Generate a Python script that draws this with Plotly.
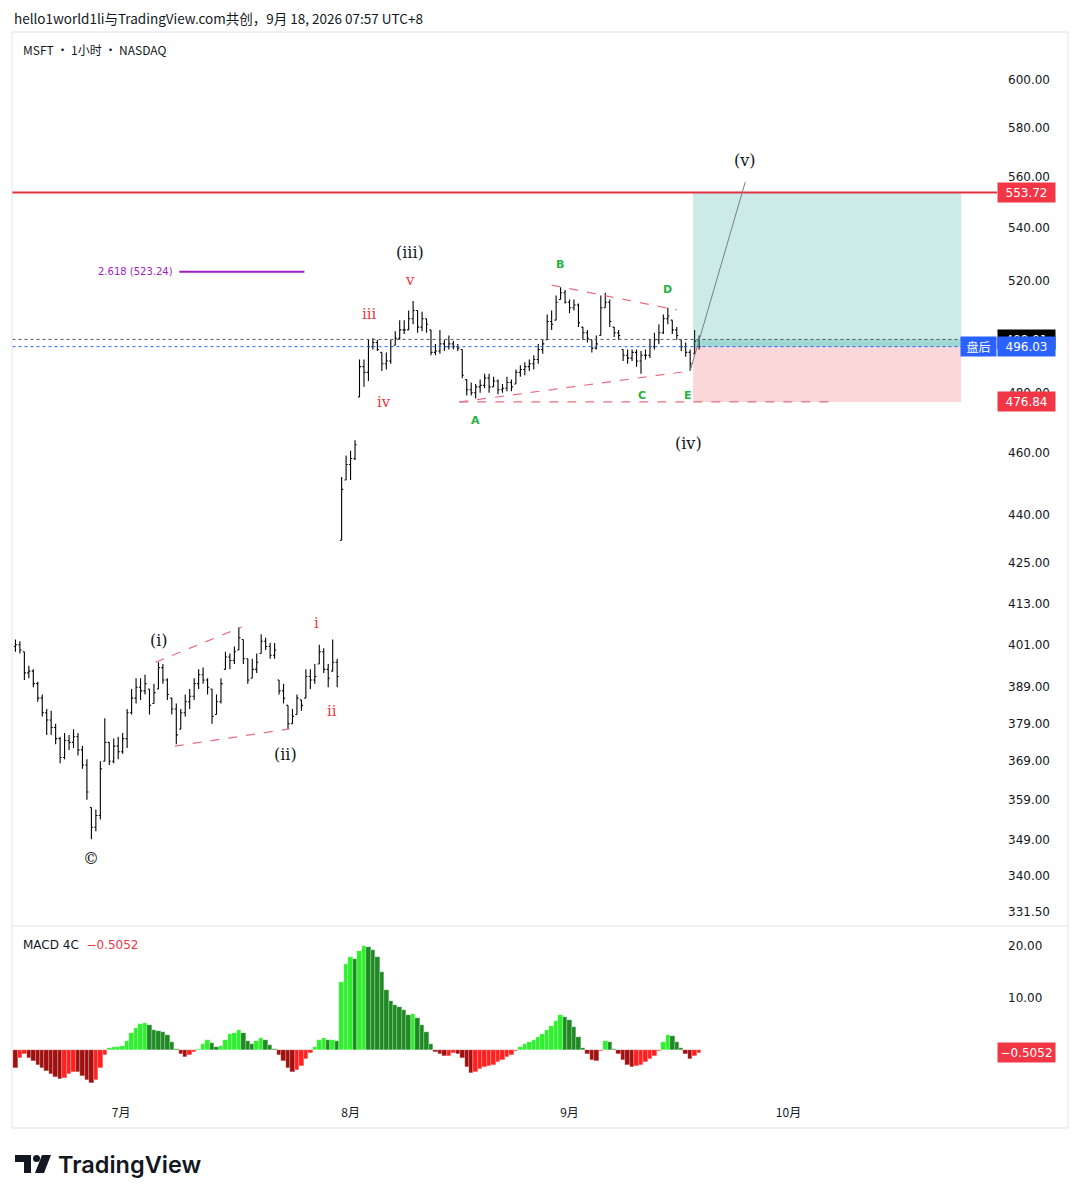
import math
import plotly.graph_objects as go

OFF = 8                       # page body margin in the browser
W, H = 1080 - OFF, 1198 - OFF

# ---------------- data (MSFT, 1h bars grouped into 3-hour slots) ----------------
open_first = 400.5
highs = [402.5, 402, 399, 395, 394, 390.5, 387, 383, 382.5, 379,
         375.5, 376.5, 376, 377.5, 376.5, 373, 369.5, 357, 356.5, 369,
         380.5, 374, 375, 375.5, 376.5, 383, 388.5, 391.5, 391.5, 392.5,
         388.5, 390, 396, 395.5, 391.5, 386, 384.5, 383, 387, 388.5,
         391.5, 394, 394.5, 391.5, 388.5, 387, 391.5, 399, 398.5, 400.5,
         406, 402.5, 397, 397, 398.5, 404, 403, 401.5, 401.5, 391,
         390, 384, 383, 387, 385.5, 394, 394, 395.5, 401, 400,
         395.5, 402.5, 397, 452, 459, 460.5, 464, 491.5, 491.5, 498.5,
         499, 498.5, 494, 494, 498.5, 501.5, 505.5, 505.5, 509, 512.5,
         509, 508.5, 506, 502, 497, 502, 498.5, 500, 498, 497,
         495, 484.5, 483.5, 483, 484.5, 486.5, 486.5, 485.5, 484.5, 483,
         485.5, 484.5, 488, 489.5, 490.5, 491.5, 493, 497, 498.5, 507.5,
         509, 514.5, 517.5, 516.5, 513, 513, 511.5, 503, 502, 498.5,
         500, 514.5, 515.5, 513, 503, 502, 495, 495, 495, 495,
         494.5, 495, 498.5, 501, 504, 507.5, 510, 505.5, 503, 498.5,
         497.5, 495, 502, 500]
lows = [399, 398.5, 391, 391.5, 389, 385, 381, 376, 376, 373.5,
        368.5, 369.5, 372, 372.5, 370.5, 367, 359, 349, 351, 354,
        369, 368, 368.5, 369.5, 371, 372.5, 381.5, 384.5, 385.5, 387,
        381.5, 384.5, 388.5, 390, 385.5, 381.5, 373.5, 377.5, 381, 383,
        385.5, 388.5, 390, 387, 379, 381.5, 384.5, 394, 394, 395.5,
        399.5, 395.5, 390, 391.5, 393, 398.5, 399.5, 397, 397, 387,
        384.5, 377.5, 379, 381.5, 382.5, 386, 388.5, 390, 395.5, 393,
        389, 393.5, 389, 432, 451, 451, 457.5, 478.5, 482, 484,
        495, 494.5, 487.5, 488, 490, 496.5, 498.5, 500.5, 502, 504,
        501, 501.5, 501, 493, 493, 493.5, 494.5, 495, 495, 494.5,
        485, 479, 479, 478, 480, 481.5, 480, 482, 479.5, 480,
        480.5, 480.5, 483, 485.5, 486, 487.5, 488, 490, 493.5, 498.5,
        502, 505.5, 513, 511.5, 508, 509, 503, 498.5, 497.5, 494,
        495, 500, 510, 503, 499.5, 498.5, 491, 490, 491, 489,
        486.5, 491.5, 492, 495, 497, 500.5, 504, 500.5, 498.5, 494.5,
        492.5, 487.5, 493.5, 495]
closes = [401, 399.5, 393, 393.5, 390, 386, 382, 380, 378, 375,
          370, 374.5, 374, 375.5, 372, 368, 361, 352, 355, 367,
          374, 369, 373, 371.5, 375, 382, 386, 389, 388, 390,
          384, 387.5, 394.5, 391, 387, 383, 376, 382, 385, 386.5,
          390, 392.5, 391, 389, 381, 385, 390, 397.5, 396.5, 399,
          403, 397, 391, 394, 396, 402, 400.5, 398, 399.5, 388,
          386, 379, 381, 386, 384, 392, 391, 392, 399, 394,
          391.5, 396, 392, 448, 456, 458, 462.5, 489, 487, 496,
          497.5, 495, 490, 491, 496, 499, 502, 502, 506, 509,
          503, 506, 504, 494, 494.5, 497, 496, 497, 496, 495.5,
          486, 481, 480, 482, 482.5, 485, 482, 484, 481, 481.5,
          483.5, 482, 487, 488, 489, 490, 491.5, 495, 497, 505,
          504, 512, 515.5, 512, 510, 511, 504.5, 501, 499, 495.5,
          497, 510, 512, 505, 501, 500, 493, 492, 494, 491,
          493, 493, 496, 498.5, 501, 506, 507, 502, 500, 496,
          494, 490, 498, 496.03]
macd_hist = [-3.5, -1.5, -0.8, -1.5, -2.2, -2.8, -3.4, -4.0, -4.6, -5.1,
             -5.5, -5.3, -4.6, -4.2, -4.3, -5.0, -5.8, -6.3, -5.8, -3.5,
             -1.0, 0.3, 0.5, 0.6, 0.7, 1.8, 3.2, 4.3, 5.0, 5.2,
             4.8, 3.8, 3.6, 3.4, 2.8, 1.5, 0.2, -0.8, -1.4, -1.0,
             -0.4, 0.2, 1.2, 1.9, 1.3, 0.6, 0.8, 2.0, 3.0, 3.3,
             3.9, 3.2, 1.8, 1.2, 1.8, 2.3, 1.9, 1.0, 0.1, -0.9,
             -2.2, -3.5, -4.3, -3.9, -3.0, -1.8, -0.6, 0.6, 2.0, 2.4,
             1.9, 2.0, 1.8, 13.0, 16.5, 17.8, 17.5, 19.0, 20.0, 19.8,
             19.2, 17.8, 15.0, 11.5, 9.5, 8.6, 8.2, 7.6, 6.8, 7.0,
             6.2, 4.8, 3.4, 1.2, -0.3, -0.8, -1.2, -1.1, -0.6, -0.8,
             -1.5, -3.2, -4.4, -4.2, -3.6, -3.3, -3.0, -2.8, -2.4, -2.0,
             -1.4, -0.9, -0.2, 0.6, 1.2, 1.6, 2.0, 2.5, 3.0, 3.8,
             4.6, 5.6, 6.7, 6.4, 5.7, 4.5, 2.5, 0.4, -0.8, -1.9,
             -2.1, -0.2, 1.8, 1.5, 0.2, -0.8, -2.0, -2.8, -3.2, -3.1,
             -2.9, -2.4, -1.8, -1.1, -0.2, 1.6, 2.8, 2.6, 1.6, 0.4,
             -0.7, -1.7, -1.2, -0.5052]

month_ticks = [72, 226, 373, 520]          # bar index of first bar of each month
month_labels = ['7月', '8月', '9月', '10月']
price_ticks = [331.5, 340, 349, 359, 369, 379, 389, 401, 413, 425, 440, 460,
               480, 520, 540, 560, 580, 600]
macd_ticks = [10, 20]

target_price = 553.72
entry_price = 496.03
stop_price = 476.84
regular_close = 498.60
fib_price = 523.24
macd_last = -0.5052

# drawings anchored to (bar index, price)
pos_bars = (456, 636)
stop_line_bars = (299, 550)
tri_upper = ([361, 445], [518.3, 509.2])
tri_lower = ([299, 454], [476.8, 487.5])
jul_upper = ([95, 153], [396.0, 406.1])
jul_lower = ([108, 185], [373.0, 377.6])
proj_line = ([454, 491], [487.5, 557.9])
fib_bars = (111, 195)

# ---------------- build ----------------
n = len(closes)
xs = [3 * i + 1 for i in range(n)]
opens = []
prev = open_first
for hh, ll, cc in zip(highs, lows, closes):
    opens.append(min(max(prev, ll), hh))
    prev = cc

cols = []
pv = 0.0
for v in macd_hist:
    if v >= 0:
        cols.append('#2ef02e' if v > pv else '#1f8a24')
    else:
        cols.append('#a01010' if v < pv else '#ff2020')
    pv = v

XR = [-1.3, 660]
fig = go.Figure()


def line(xv, yv, color, width=1, dash=None, xa='x', ya='y'):
    fig.add_trace(go.Scatter(x=xv, y=yv, mode='lines', xaxis=xa, yaxis=ya,
                             line=dict(color=color, width=width, dash=dash),
                             hoverinfo='skip', showlegend=False))


def rect(x0, x1, y0, y1, color):
    fig.add_trace(go.Scatter(x=[x0, x1, x1, x0, x0], y=[y0, y0, y1, y1, y0],
                             mode='lines', fill='toself', fillcolor=color,
                             line=dict(width=0), hoverinfo='skip', showlegend=False))


# position tool
rect(pos_bars[0], pos_bars[1], entry_price, target_price, 'rgba(0,150,136,0.2)')
rect(pos_bars[0], pos_bars[1], stop_price, entry_price, 'rgba(242,54,69,0.2)')
rect(pos_bars[0], pos_bars[1], entry_price, regular_close, 'rgba(0,150,136,0.22)')

# candles
fig.add_trace(go.Ohlc(x=xs, open=opens, high=highs, low=lows, close=closes,
                      increasing=dict(line=dict(color='#000000', width=1.1)),
                      decreasing=dict(line=dict(color='#000000', width=1.1)),
                      tickwidth=0.35, hoverinfo='skip', showlegend=False))

# lines
line([-5, 700], [target_price, target_price], '#e0323e', 2)
line([-5, 700], [regular_close, regular_close], '#50535e', 1, 'dot')
line([-5, 700], [entry_price, entry_price], '#2962ff', 1, 'dot')
line(list(fib_bars), [fib_price, fib_price], '#a01ec8', 2)
line(list(stop_line_bars), [stop_price, stop_price], '#e8707f', 1.2, 'dash')
for seg in (tri_upper, tri_lower, jul_upper, jul_lower):
    line(seg[0], seg[1], '#e8707f', 1.2, 'dash')
line(proj_line[0], proj_line[1], '#7a7d86', 1)

# MACD histogram
fig.add_trace(go.Bar(x=xs, y=macd_hist, width=3,
                     marker=dict(color=cols, line=dict(width=0.4, color='rgba(255,255,255,0.6)')),
                     xaxis='x2', yaxis='y2', hoverinfo='skip', showlegend=False))


def PX(x):
    return (x - OFF) / W


def PY(y):
    return 1 - (y - OFF) / H


axfont = dict(family='DejaVu Sans', size=12, color='#131722')
fig.update_layout(
    width=W, height=H, margin=dict(l=0, r=0, t=0, b=0),
    paper_bgcolor='white', plot_bgcolor='white', showlegend=False,
    bargap=0, hovermode=False,
    xaxis=dict(domain=[PX(12), PX(997)], range=XR, anchor='y', showticklabels=False,
               showgrid=False, zeroline=False, showline=False, rangeslider=dict(visible=False),
               fixedrange=True),
    yaxis=dict(domain=[PY(925), PY(32)], type='log',
               range=[math.log10(328.3), math.log10(620.9)], side='right', anchor='x',
               tickvals=price_ticks, ticktext=['%.2f' % v for v in price_ticks],
               showgrid=False, zeroline=False, showline=False, ticks='',
               ticklabelstandoff=10, tickfont=axfont),
    xaxis2=dict(domain=[PX(12), PX(997)], range=XR, anchor='y2',
                tickvals=month_ticks, ticktext=month_labels, showgrid=False,
                zeroline=False, showline=False, ticks='', ticklabelstandoff=6,
                tickfont=dict(family='Noto Sans CJK SC', size=12, color='#131722')),
    yaxis2=dict(domain=[PY(1098), PY(927)], range=[-9.23, 23.65], side='right',
                anchor='x2', tickvals=macd_ticks, ticktext=['%.2f' % v for v in macd_ticks],
                showgrid=False, zeroline=False, showline=False, ticks='',
                ticklabelstandoff=10, tickfont=axfont),
)


def ann(text, x, y, color='#131722', size=12, family='DejaVu Sans', xanchor='center', **kw):
    fig.add_annotation(text=text, x=PX(x), y=PY(y), xref='paper', yref='paper', showarrow=False,
                       font=dict(family=family, size=size, color=color),
                       xanchor=xanchor, yanchor='middle', **kw)


# frame
fig.add_shape(type='rect', xref='paper', yref='paper', x0=PX(12), x1=PX(1068),
              y0=PY(1128), y1=PY(32), line=dict(color='#e0e3eb', width=1))
fig.add_shape(type='line', xref='paper', yref='paper', x0=PX(12), x1=PX(1068),
              y0=PY(926), y1=PY(926), line=dict(color='#e0e3eb', width=1))

# header and titles
ann('hello1world1li与TradingView.com共创，9月 18, 2026 07:57 UTC+8', 12, 18,
    size=13.5, family='Noto Sans CJK SC', xanchor='left')
ann('MSFT · 1小时 · NASDAQ', 21, 50, size=12, family='Noto Sans CJK SC', xanchor='left')
ann('MACD 4C  <span style="color:#f23645">−0.5052</span>', 21, 945, size=12,
    family='DejaVu Sans', xanchor='left')
ann('2.618 (523.24)', 96, 271, color='#a01ec8', size=10, xanchor='left')

# wave labels
serif = 'DejaVu Serif'
for t, x, y in [('©', 91, 858), ('(i)', 159, 640), ('(ii)', 285, 754), ('(iii)', 410, 253),
                ('(iv)', 688, 443), ('(v)', 745, 160)]:
    ann(t, x, y, color='#131722', size=16, family=serif)
for t, x, y in [('i', 316, 623), ('ii', 332, 711), ('iii', 369, 314), ('iv', 384, 402),
                ('v', 410, 280)]:
    ann(t, x, y, color='#f23645', size=15, family=serif)
for t, x, y in [('A', 475, 420), ('B', 560, 264), ('C', 642, 396), ('D', 667, 289),
                ('E', 688, 396)]:
    ann('<b>%s</b>' % t, x, y, color='#22b33c', size=11, family='DejaVu Sans')


# price-axis labels
def plabel(text, price, bg, ya='y', log=True):
    yv = math.log10(price) if log else price
    fig.add_annotation(text=text, x=PX(1026.5), xref='paper', y=yv, yref=ya,
                       showarrow=False, bgcolor=bg, width=55, height=17, borderpad=1,
                       font=dict(family='DejaVu Sans', size=12, color='white'),
                       xanchor='center', yanchor='middle')


plabel('%.2f' % target_price, target_price, '#f23645')
fig.add_annotation(text='498.91', x=PX(1026.5), xref='paper', y=PY(339.5), yref='paper',
                   showarrow=False, bgcolor='#000000', width=55, height=17, borderpad=1,
                   font=dict(family='DejaVu Sans', size=12, color='white'),
                   xanchor='center', yanchor='middle')
plabel('%.2f' % entry_price, entry_price, '#2962ff')
fig.add_annotation(text='盘后', x=PX(978.5), xref='paper', y=math.log10(entry_price), yref='y',
                   showarrow=False, bgcolor='#2962ff', width=33, height=17, borderpad=1,
                   font=dict(family='Noto Sans CJK SC', size=12, color='white'),
                   xanchor='center', yanchor='middle')
plabel('%.2f' % stop_price, stop_price, '#f23645')
plabel('−%.4f' % abs(macd_last), macd_last, '#f23645', ya='y2', log=False)


# TradingView logo
def path(pts):
    return 'M ' + ' L '.join('%f,%f' % (PX(x), PY(y)) for x, y in pts) + ' Z'


fig.add_shape(type='path', xref='paper', yref='paper',
              path=path([(15, 1155), (31, 1155), (31, 1173), (24, 1173), (24, 1162), (15, 1162)]),
              fillcolor='#131722', line=dict(width=0))
fig.add_shape(type='circle', xref='paper', yref='paper', x0=PX(33), x1=PX(40),
              y0=PY(1162), y1=PY(1155), fillcolor='#131722', line=dict(width=0))
fig.add_shape(type='path', xref='paper', yref='paper',
              path=path([(42, 1155), (51, 1155), (44, 1173), (35, 1173)]),
              fillcolor='#131722', line=dict(width=0))
fig.add_annotation(text='TradingView', x=PX(56), y=PY(1164), xref='paper', yref='paper',
                   showarrow=False, xanchor='left', yanchor='middle',
                   font=dict(family='Inter', size=23.5, color='#131722', weight=600))

fig.write_html('out.html')
